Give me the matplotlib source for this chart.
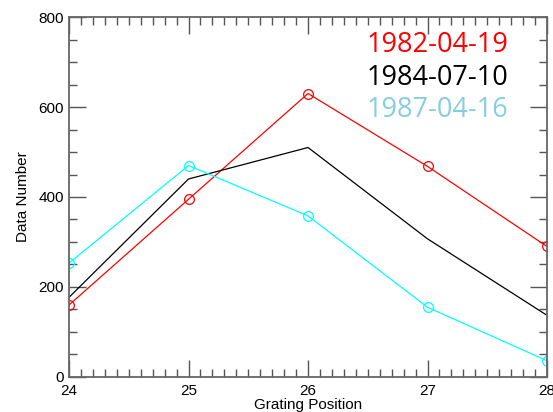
import matplotlib.pyplot as plt
from matplotlib.ticker import MultipleLocator

# Grating position vs data number
pos = [24, 25, 26, 27, 28]
dn_1982 = [160, 395, 630, 468, 290]
dn_1984 = [177, 440, 510, 307, 137]
dn_1987 = [253, 470, 358, 155, 36]
dates = ['1982-04-19', '1984-07-10', '1987-04-16']
date_colors = ['red', 'black', '#86CEDF']

fig = plt.figure(figsize=(5.53, 4.12), dpi=100)
ax = fig.add_axes([0.1248, 0.085, 0.8644, 0.8737])

ax.plot(pos, dn_1982, color='red', lw=0.9, marker='o', mfc='none', ms=7, mew=0.9)
ax.plot(pos, dn_1984, color='black', lw=0.9)
ax.plot(pos, dn_1987, color='cyan', lw=0.9, marker='o', mfc='none', ms=7, mew=0.9)

ax.set_xlim(24, 28)
ax.set_ylim(0, 800)
ax.xaxis.set_major_locator(MultipleLocator(1))
ax.xaxis.set_minor_locator(MultipleLocator(0.1))
ax.yaxis.set_major_locator(MultipleLocator(200))
ax.yaxis.set_minor_locator(MultipleLocator(50))
ax.tick_params(which='both', direction='in', top=True, right=True, color='#555555',
               labelsize=11, width=1)
ax.tick_params(which='major', length=12)
ax.tick_params(which='minor', length=6)
ax.tick_params(axis='x', pad=5)
for lbl in ax.get_xticklabels() + ax.get_yticklabels():
    lbl.set_family('Liberation Sans')
for s in ax.spines.values():
    s.set_color('#666666')
    s.set_linewidth(1.3)

ax.set_xlabel('Grating Position', family='Liberation Sans', fontsize=11, labelpad=0)
ax.set_ylabel('Data Number', family='Liberation Sans', fontsize=11, labelpad=6)

for i, (d, c) in enumerate(zip(dates, date_colors)):
    ax.text(0.622, 0.921 - i * 0.09, d, color=c, transform=ax.transAxes,
            family='Open Sans', fontsize=19.5, va='center', ha='left')

plt.savefig('out.png')
